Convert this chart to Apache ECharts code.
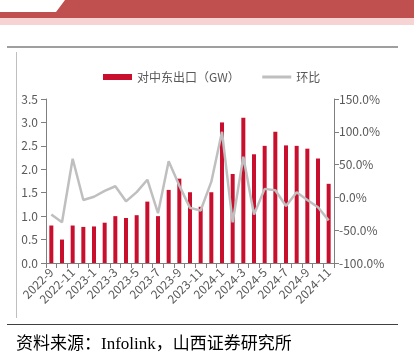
<!DOCTYPE html>
<html>
<head>
<meta charset="utf-8">
<script src="https://cdn.jsdelivr.net/npm/echarts@6/dist/echarts.min.js"></script>
<style>
html,body{margin:0;padding:0;background:#fff;}
#c{width:414px;height:358px;}
</style>
</head>
<body>
<div id="c"></div>
<script>
const categories = ['2022-9','2022-10','2022-11','2022-12','2023-1','2023-2','2023-3','2023-4','2023-5','2023-6','2023-7','2023-8','2023-9','2023-10','2023-11','2023-12','2024-1','2024-2','2024-3','2024-4','2024-5','2024-6','2024-7','2024-8','2024-9','2024-10','2024-11'];
const exportGW = [0.80,0.50,0.80,0.77,0.78,0.86,1.00,0.96,1.02,1.31,1.00,1.56,1.80,1.51,1.20,1.51,3.00,1.90,3.10,2.32,2.50,2.80,2.51,2.50,2.44,2.23,1.69];
const momPct = [-26,-38,59,-4,1,10,17,-6,8,27,-24,55,18,-16,-20,24,100,-38,62,-26,13,11,-13,8,-4,-15,-35];
const leftTicks = [0,0.5,1,1.5,2,2.5,3,3.5];
const rightTicks = [-100,-50,0,50,100,150];

const chart = echarts.init(document.getElementById('c'));
const txt = '#595959';
chart.setOption({
  animation:false,
  textStyle:{fontFamily:'"Noto Sans CJK SC", "Liberation Sans", sans-serif'},
  graphic:[
    {type:'polygon',shape:{points:[[0,12],[56,12],[65,0],[414,0],[414,18],[0,18]]},style:{fill:'#c0504f'}},
    {type:'rect',shape:{x:0,y:18,width:414,height:7},style:{fill:'#f6d4d4'}},
    {type:'line',shape:{x1:7,y1:47,x2:398,y2:47},style:{stroke:'#7f7f7f',lineWidth:1.5}},
    {type:'line',shape:{x1:16.5,y1:52,x2:16.5,y2:318},style:{stroke:'#bfbfbf',lineWidth:1}},
    {type:'line',shape:{x1:7,y1:324.5,x2:398,y2:324.5},style:{stroke:'#404040',lineWidth:1}},
    {type:'text',left:16,top:336,style:{text:'资料来源：Infolink，山西证券研究所',fontSize:17,fill:'#000',fontFamily:'"Liberation Serif", "Noto Sans CJK SC", serif'}}
  ],
  legend:{
    left:98,top:66,itemWidth:29,itemHeight:6,itemGap:21,
    textStyle:{fontSize:12,color:txt},
    data:[{name:'对中东出口（GW）',icon:'rect'},{name:'环比',itemStyle:{opacity:0},lineStyle:{width:3,color:'#bfbfbf'}}]
  },
  grid:{left:46,right:80,top:99,bottom:95},
  xAxis:{
    type:'category',data:categories,
    axisLine:{lineStyle:{color:'#7f7f7f'}},
    axisTick:{show:true,interval:0,lineStyle:{color:'#7f7f7f'}},
    axisLabel:{interval:1,rotate:45,fontSize:12,color:txt,margin:7}
  },
  yAxis:[
    {type:'value',min:0,max:3.5,interval:0.5,
     axisLine:{show:true,lineStyle:{color:'#7f7f7f'}},
     axisTick:{show:true,lineStyle:{color:'#7f7f7f'}},
     splitLine:{show:false},
     axisLabel:{fontSize:12,color:txt,formatter:v=>v.toFixed(1)}},
    {type:'value',min:-100,max:150,interval:50,position:'right',
     axisLine:{show:true,lineStyle:{color:'#7f7f7f'}},
     axisTick:{show:true,lineStyle:{color:'#7f7f7f'}},
     splitLine:{show:false},
     axisLabel:{fontSize:12,color:txt,margin:5,formatter:v=>v.toFixed(1)+'%'}}
  ],
  series:[
    {name:'对中东出口（GW）',type:'bar',data:exportGW,barWidth:4,itemStyle:{color:'#c8102e'}},
    {name:'环比',type:'line',yAxisIndex:1,data:momPct,symbol:'none',
     lineStyle:{color:'#bfbfbf',width:2.5},itemStyle:{color:'#bfbfbf'}}
  ]
});
</script>
</body>
</html>
